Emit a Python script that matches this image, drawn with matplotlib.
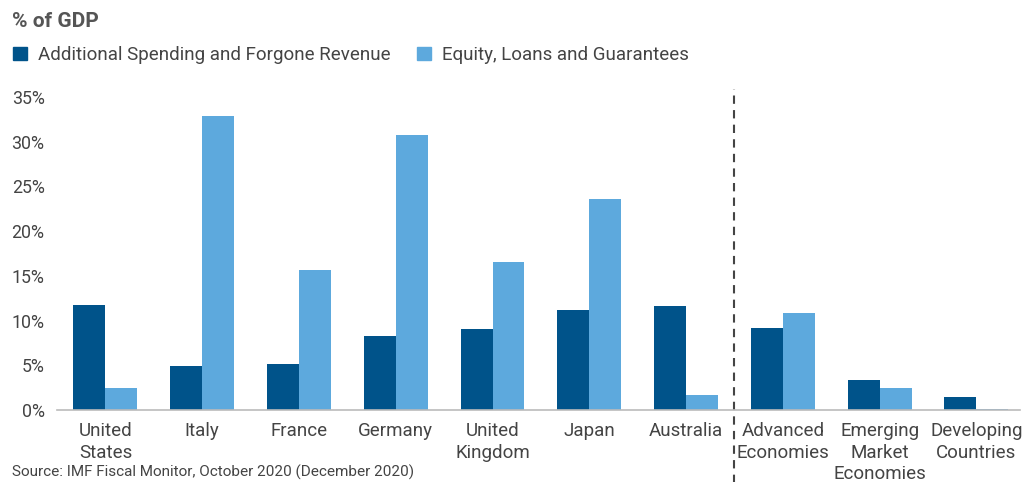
import matplotlib.pyplot as plt
import numpy as np
from matplotlib.patches import Patch

plt.rcParams['font.family'] = ['Roboto', 'DejaVu Sans']

categories = ['United\nStates', 'Italy', 'France', 'Germany', 'United\nKingdom', 'Japan',
              'Australia', 'Advanced\nEconomies', 'Emerging\nMarket\nEconomies', 'Developing\nCountries']
spending = [11.7, 4.9, 5.1, 8.3, 9.1, 11.2, 11.6, 9.2, 3.3, 1.5]
equity = [2.5, 32.9, 15.7, 30.8, 16.5, 23.6, 1.7, 10.9, 2.5, 0.15]
yticks = [0, 5, 10, 15, 20, 25, 30, 35]

c_dark = '#00538a'
c_light = '#5da9dd'
c_text = '#444444'

fig = plt.figure(figsize=(10.24, 4.82), dpi=100)
ax = fig.add_axes([0.0557, 0.1494, 0.9403, 0.6494])

x = np.arange(len(categories))
w = 0.33
ax.bar(x - w / 2, spending, width=w, color=c_dark)
ax.bar(x + w / 2, equity, width=w, color=c_light)

ax.set_xlim(-0.5, 9.45)
ax.set_ylim(0, 35)
ax.set_yticks(yticks)
ax.set_yticklabels([f'{v}%' for v in yticks], fontsize=12.8, color=c_text)
ax.set_xticks(x)
ax.set_xticklabels(categories, fontsize=13.5, color=c_text, linespacing=1.22, va='top')
ax.tick_params(axis='both', length=0)
ax.tick_params(axis='y', pad=9)
ax.tick_params(axis='x', pad=9)

for s in ['top', 'right', 'left']:
    ax.spines[s].set_visible(False)
ax.spines['bottom'].set_color('#bbbbbb')
ax.spines['bottom'].set_linewidth(1.2)

ax.axvline(6.5, ymin=-0.24, ymax=1.025, color='#444444', lw=1.5,
           linestyle=(0, (4, 3)), clip_on=False)

fig.text(0.012, 0.955, '% of GDP', fontsize=15, fontweight='bold', color='#555555', va='center')

handles = [Patch(color=c_dark, label='Additional Spending and Forgone Revenue'),
           Patch(color=c_light, label='Equity, Loans and Guarantees')]
fig.legend(handles=handles, loc='center left', bbox_to_anchor=(-0.004, 0.886), ncol=2,
           frameon=False, fontsize=13.5, handlelength=0.75, handleheight=0.75,
           handletextpad=0.6, columnspacing=1.4, labelcolor=c_text)

fig.text(0.012, 0.004, 'Source: IMF Fiscal Monitor, October 2020 (December 2020)',
         fontsize=11, color=c_text, va='bottom')

fig.savefig('out.png', dpi=100)
